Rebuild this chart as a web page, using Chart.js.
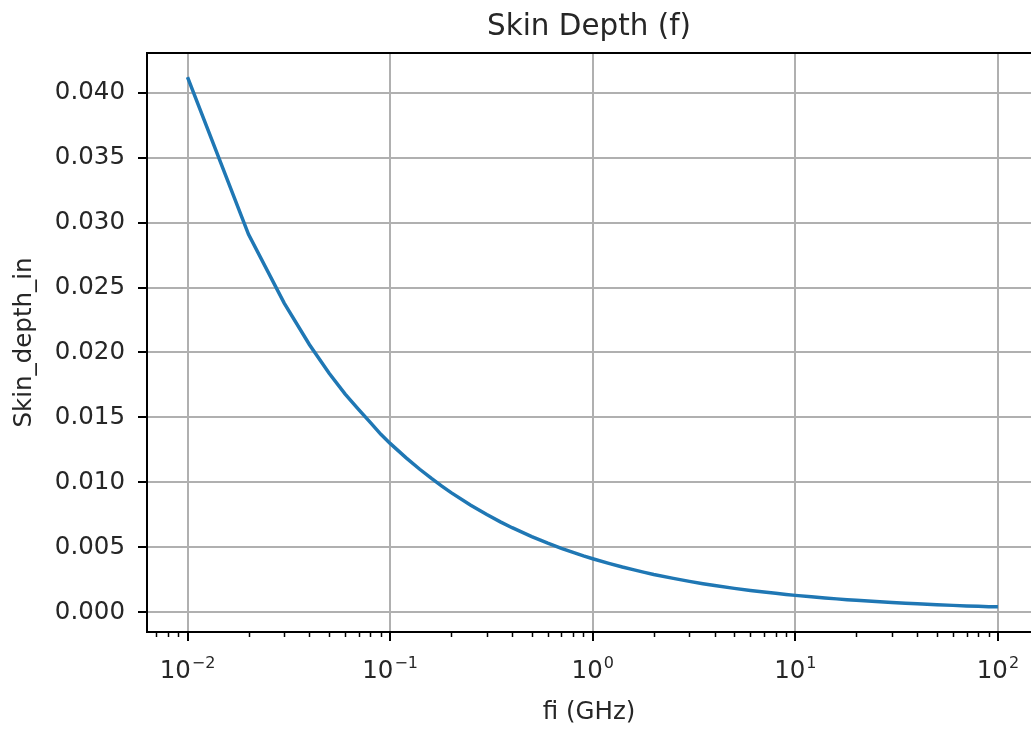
<!DOCTYPE html>
<html>
<head>
<meta charset="utf-8">
<title>Skin Depth (f)</title>
<script src="https://cdn.jsdelivr.net/npm/chart.js"></script>
<style>
  html, body { margin: 0; padding: 0; overflow: hidden; background: #fff; }
  canvas { display: block; }
</style>
</head>
<body>
<canvas id="myChart" width="1031" height="732"></canvas>
<script>
const ctx = document.getElementById('myChart');

// frequency in GHz
const fi = [
  0.01, 0.02, 0.03, 0.04, 0.05, 0.06, 0.07, 0.08, 0.09,
  0.1, 0.12, 0.14, 0.16, 0.18, 0.2, 0.25, 0.3, 0.35, 0.4, 0.5, 0.6, 0.7, 0.8, 0.9,
  1, 1.2, 1.4, 1.6, 1.8, 2, 2.5, 3, 3.5, 4, 5, 6, 7, 8, 9,
  10, 12, 14, 16, 18, 20, 25, 30, 35, 40, 50, 60, 70, 80, 90,
  100
];

// skin depth in inches
const skinDepthIn = [
  0.0412, 0.0291, 0.0238, 0.0206, 0.0184, 0.0168, 0.0156, 0.0146, 0.0137,
  0.0130, 0.01189, 0.01101, 0.0103, 0.00971, 0.00921, 0.00824, 0.00752, 0.00696, 0.00651, 0.00583, 0.00532, 0.00492, 0.00461, 0.00434,
  0.00412, 0.00376, 0.00348, 0.00326, 0.00307, 0.00291, 0.00261, 0.00238, 0.0022, 0.00206, 0.00184, 0.00168, 0.00156, 0.00146, 0.00137,
  0.0013, 0.00119, 0.0011, 0.00103, 0.00097, 0.00092, 0.00082, 0.00075, 0.0007, 0.00065, 0.00058, 0.00053, 0.00049, 0.00046, 0.00043,
  0.00042
];

const xTicks = [0.01, 0.1, 1, 10, 100];
const xExponents = ['\u22122', '\u22121', '0', '1', '2'];
const yTicks = [0, 0.005, 0.01, 0.015, 0.02, 0.025, 0.03, 0.035, 0.04];
const minorTicks = [
  0.007, 0.008, 0.009,
  0.02, 0.03, 0.04, 0.05, 0.06, 0.07, 0.08, 0.09,
  0.2, 0.3, 0.4, 0.5, 0.6, 0.7, 0.8, 0.9,
  2, 3, 4, 5, 6, 7, 8, 9,
  20, 30, 40, 50, 60, 70, 80, 90
];

const FONT = 'DejaVu Sans';
const TXT = '#262626';

// small log ticks, 10^n labels and the top frame line
const frame = {
  id: 'frame',
  afterDraw(chart) {
    const c = chart.ctx;
    const area = chart.chartArea;
    const x = chart.scales.x;
    c.save();
    c.strokeStyle = '#000';
    c.lineWidth = 1.5;
    minorTicks.forEach(v => {
      const px = Math.round(x.getPixelForValue(v)) + 0.5;
      if (px < area.left || px > area.right) return;
      c.beginPath();
      c.moveTo(px, area.bottom);
      c.lineTo(px, area.bottom + 5);
      c.stroke();
    });
    c.lineWidth = 2;
    c.beginPath();
    c.moveTo(area.left, area.top);
    c.lineTo(area.right, area.top);
    c.stroke();

    // decade labels: "10" with a raised exponent
    c.fillStyle = TXT;
    c.textBaseline = 'alphabetic';
    c.textAlign = 'left';
    const base = area.bottom + 46;
    xTicks.forEach((v, i) => {
      c.font = '24.5px "' + FONT + '"';
      const wBase = c.measureText('10').width;
      c.font = '16px "' + FONT + '"';
      const wExp = c.measureText(xExponents[i]).width;
      const left = x.getPixelForValue(v) - (wBase + wExp + 1) / 2;
      c.font = '24.5px "' + FONT + '"';
      c.fillText('10', left, base);
      c.font = '16px "' + FONT + '"';
      c.fillText(xExponents[i], left + wBase + 1, base - 10);
    });
    c.restore();
  }
};

new Chart(ctx, {
  type: 'line',
  data: {
    datasets: [{
      label: 'Skin_depth_in',
      data: fi.map((f, i) => ({ x: f, y: skinDepthIn[i] })),
      borderColor: '#1f77b4',
      borderWidth: 3.5,
      pointRadius: 0,
      tension: 0,
      fill: false
    }]
  },
  options: {
    responsive: false,
    animation: false,
    events: [],
    layout: { padding: { top: 0, left: 0, right: 0, bottom: 0 } },
    plugins: {
      legend: { display: false },
      tooltip: { enabled: false },
      title: {
        display: true,
        text: 'Skin Depth (f)',
        fullSize: false,
        color: TXT,
        font: { family: FONT, size: 29.4, weight: 'normal' },
        padding: { top: 10, bottom: 7.7 }
      }
    },
    scales: {
      x: {
        type: 'logarithmic',
        min: 0.00631,
        max: 145.6,
        afterBuildTicks: s => { s.ticks = xTicks.map(v => ({ value: v })); },
        afterFit: s => { s.height = 100; },
        ticks: { display: false },
        grid: { color: '#b0b0b0', lineWidth: 2, tickColor: '#000', tickLength: 9 },
        border: { color: '#000', width: 2 },
        title: {
          display: true,
          text: 'fi (GHz)',
          color: TXT,
          font: { family: FONT, size: 24.5 },
          padding: { top: 0, bottom: 5 }
        }
      },
      y: {
        min: -0.00152,
        max: 0.04306,
        afterBuildTicks: s => { s.ticks = yTicks.map(v => ({ value: v })); },
        afterFit: s => { s.width = 147; },
        ticks: {
          color: TXT,
          font: { family: FONT, size: 24.5 },
          padding: 13,
          callback: v => v.toFixed(3)
        },
        grid: { color: '#b0b0b0', lineWidth: 2, tickColor: '#000', tickLength: 9 },
        border: { color: '#000', width: 2 },
        title: {
          display: true,
          text: 'Skin_depth_in',
          color: TXT,
          font: { family: FONT, size: 24.5 },
          padding: { top: 10, bottom: 0 }
        }
      }
    }
  },
  plugins: [frame]
});
</script>
</body>
</html>
